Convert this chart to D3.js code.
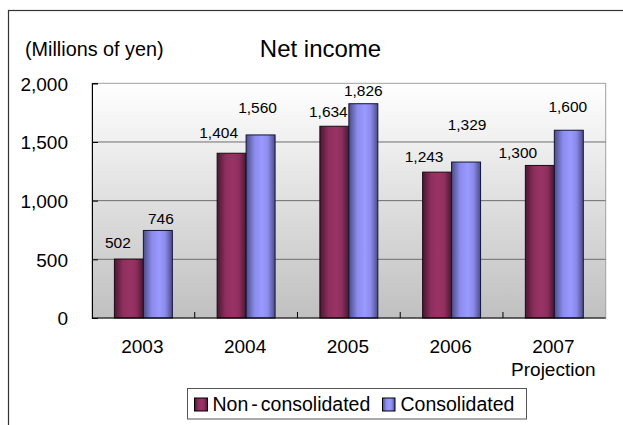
<!DOCTYPE html>
<html>
<head>
<meta charset="utf-8">
<script src="https://cdn.jsdelivr.net/npm/d3@7/dist/d3.min.js"></script>
<style>
html,body{margin:0;padding:0;background:#fff;}
svg{display:block;font-family:"Liberation Sans",Arial,sans-serif;}
</style>
</head>
<body>
<svg id="chart" width="623" height="425"></svg>
<script>
const years = ["2003","2004","2005","2006","2007"];
const yearSub = ["","","","","Projection"];
const nonConsolidated = [502,1404,1634,1243,1300];
const consolidated = [746,1560,1826,1329,1600];
const yTicks = [0,500,1000,1500,2000];
const seriesNames = ["Non-consolidated","Consolidated"];
// label nudges (dx, dy) as placed in the original
const labelNudgeNC = [[-11,-11],[-13,-15],[-6,-9],[-13,-10],[-22,-7]];
const labelNudgeC = [[3,-6],[-3,-22],[0,-8],[1,-32],[-1,-18]];

(function(){
const svg = d3.select("#chart");
const defs = svg.append("defs");

const bg = defs.append("linearGradient").attr("id","bg").attr("x1",0).attr("y1",0).attr("x2",0).attr("y2",1);
bg.append("stop").attr("offset","0%").attr("stop-color","#ffffff");
bg.append("stop").attr("offset","100%").attr("stop-color","#c0c0c0");

function cyl(id, dark, mid, light){
  const g = defs.append("linearGradient").attr("id",id).attr("x1",0).attr("y1",0).attr("x2",1).attr("y2",0);
  g.append("stop").attr("offset","0%").attr("stop-color",dark);
  g.append("stop").attr("offset","30%").attr("stop-color",mid);
  g.append("stop").attr("offset","55%").attr("stop-color",light);
  g.append("stop").attr("offset","75%").attr("stop-color",mid);
  g.append("stop").attr("offset","100%").attr("stop-color",dark);
}
cyl("gNC","#4a1830","#8f2f5e","#993366");
cyl("gC","#4c4c85","#8c8cee","#9999ff");

// outer frame
svg.append("rect").attr("x",8.5).attr("y",10.5).attr("width",700).attr("height",500)
  .attr("fill","none").attr("stroke","#333").attr("stroke-width",1.2);

const pl = 92, pr = 605.7, pt = 83.3, pb = 318;
const x = d3.scaleBand().domain(years).range([pl,pr]).padding(0);
const y = d3.scaleLinear().domain([0,2000]).range([pb,pt]);
const bw = x.bandwidth()*0.282;

// plot background
svg.append("rect").attr("x",pl).attr("y",pt).attr("width",pr-pl).attr("height",pb-pt)
  .attr("fill","url(#bg)").attr("stroke","#a0a0a0").attr("stroke-width",1);

// gridlines
svg.append("g").selectAll("line").data(yTicks.filter(t=>t>0 && t<2000)).join("line")
  .attr("x1",pl).attr("x2",pr).attr("y1",d=>y(d)).attr("y2",d=>y(d))
  .attr("stroke","#6e6e6e").attr("stroke-width",1);

// bars
const grp = svg.append("g");
grp.selectAll("rect.nc").data(nonConsolidated).join("rect").attr("class","nc")
  .attr("x",(d,i)=>x(years[i])+x.bandwidth()/2-bw).attr("width",bw)
  .attr("y",d=>y(d)).attr("height",d=>pb-y(d))
  .attr("fill","url(#gNC)").attr("stroke","#1a0a12").attr("stroke-width",1);
grp.selectAll("rect.c").data(consolidated).join("rect").attr("class","c")
  .attr("x",(d,i)=>x(years[i])+x.bandwidth()/2).attr("width",bw)
  .attr("y",d=>y(d)).attr("height",d=>pb-y(d))
  .attr("fill","url(#gC)").attr("stroke","#14143a").attr("stroke-width",1);

// axes
const yAxis = d3.axisLeft(y).tickValues(yTicks).tickSize(-6).tickPadding(30).tickFormat(d3.format(","));
const ya = svg.append("g").attr("transform",`translate(${pl},0)`).call(yAxis);
ya.select(".domain").attr("stroke","#000");
ya.selectAll(".tick line").attr("stroke","#000");
ya.selectAll(".tick text").attr("font-size","19px").attr("fill","#000")
  .attr("font-family","'Liberation Sans',Arial,sans-serif").attr("x",-24).attr("dy","0.36em");

svg.append("line").attr("x1",pl).attr("x2",pr).attr("y1",pb).attr("y2",pb).attr("stroke","#000");
svg.append("g").selectAll("line").data(years.slice(1)).join("line")
  .attr("x1",d=>x(d)).attr("x2",d=>x(d)).attr("y1",pb).attr("y2",pb-6).attr("stroke","#000");

// x labels
const xl = svg.append("g").attr("font-size","19px").attr("text-anchor","middle");
xl.selectAll("text.yr").data(years).join("text").attr("class","yr")
  .attr("x",d=>x(d)+x.bandwidth()/2-1).attr("y",353).text(d=>d);
xl.selectAll("text.sub").data(yearSub).join("text").attr("class","sub")
  .attr("x",(d,i)=>x(years[i])+x.bandwidth()/2-1).attr("y",376).text(d=>d);

// value labels
const fmt = d3.format(",");
const vl = svg.append("g").attr("font-size","15.5px").attr("text-anchor","middle");
vl.selectAll("text.nc").data(nonConsolidated).join("text").attr("class","nc")
  .attr("x",(d,i)=>x(years[i])+x.bandwidth()/2-bw/2+labelNudgeNC[i][0])
  .attr("y",(d,i)=>y(d)+labelNudgeNC[i][1]).text(d=>fmt(d));
vl.selectAll("text.c").data(consolidated).join("text").attr("class","c")
  .attr("x",(d,i)=>x(years[i])+x.bandwidth()/2+bw/2+labelNudgeC[i][0])
  .attr("y",(d,i)=>y(d)+labelNudgeC[i][1]).text(d=>fmt(d));

// title and unit
svg.append("text").attr("x",320.5).attr("y",57).attr("text-anchor","middle").attr("font-size","24px").text("Net income");
svg.append("text").attr("x",25).attr("y",56).attr("font-size","19.8px").text("(Millions of yen)");

// legend
const lg = svg.append("g");
lg.append("rect").attr("x",187.5).attr("y",388.5).attr("width",339).attr("height",30.5)
  .attr("fill","#fff").attr("stroke","#555").attr("stroke-width",1);
lg.append("rect").attr("x",194.5).attr("y",398).attr("width",13).attr("height",13)
  .attr("fill","url(#gNC)").attr("stroke","#000");
lg.append("rect").attr("x",382.5).attr("y",398).attr("width",12.5).attr("height",13)
  .attr("fill","url(#gC)").attr("stroke","#000");
const t1 = lg.append("text").attr("x",212.5).attr("y",411).attr("font-size","19.5px");
t1.append("tspan").text("Non");
t1.append("tspan").attr("dx",3).text("-");
t1.append("tspan").attr("dx",3).text("consolidated");
lg.append("text").attr("x",400.5).attr("y",411).attr("font-size","19.5px").text(seriesNames[1]);
})();
</script>
</body>
</html>
